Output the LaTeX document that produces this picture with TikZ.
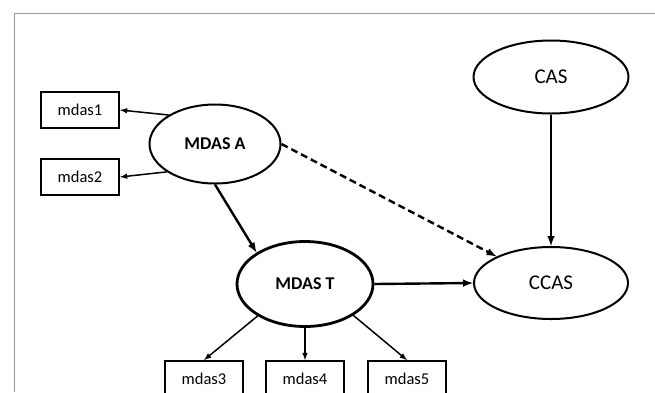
\documentclass[tikz,border=0pt]{standalone}
\usepackage{fontspec}
\setmainfont{Carlito}
\usepackage{tikz}
\usetikzlibrary{shapes.geometric, arrows, positioning}

\begin{document}
\begin{tikzpicture}[x=1pt, y=-1pt,
    agent/.style={draw, ellipse, line width=2pt, inner sep=0pt},
    tbox/.style={draw, rectangle, line width=1.8pt, minimum width=78pt, minimum height=36pt, inner sep=0pt, font=\fontsize{16.5}{19}\selectfont},
    linkthin/.style={-latex, line width=1.5pt},
    linkbold/.style={-latex, line width=2.4pt}]
\useasboundingbox (0,0) rectangle (655,392);
\draw[gray!80, line width=1pt] (655,13) -- (14,13) -- (14,392);

% Agents
\node[agent, minimum width=131pt, minimum height=79pt, font=\fontsize{18}{21}\selectfont\bfseries] (ma) at (215,144) {MDAS A};
\node[agent, line width=2.8pt, minimum width=136pt, minimum height=85pt, font=\fontsize{18}{21}\selectfont\bfseries] (mt) at (305,284) {MDAS T};
\node[agent, minimum width=155pt, minimum height=73pt, font=\fontsize{21}{25}\selectfont] (cas) at (551,77) {CAS};
\node[agent, minimum width=154pt, minimum height=72pt, font=\fontsize{21}{25}\selectfont] (ccas) at (551,283) {CCAS};

% Data sources
\node[tbox] (m1) at (80,110) {mdas1};
\node[tbox] (m2) at (80,177) {mdas2};
\node[tbox] (m3) at (204,379) {mdas3};
\node[tbox] (m4) at (305,379) {mdas4};
\node[tbox] (m5) at (407,379) {mdas5};

% Links
\draw[linkthin] (ma.148) -- (m1.east);
\draw[linkthin] (ma.210) -- (m2.east);
\draw[linkbold] (ma.south) -- (mt.147);
\draw[linkbold, dash pattern=on 7pt off 4pt] (ma.east) -- (ccas.154);
\draw[linkbold] (cas.south) -- (ccas.north);
\draw[linkbold] (mt.east) -- (ccas.west);
\draw[linkthin] (mt.214) -- (m3.north);
\draw[linkthin] (mt.south) -- (m4.north);
\draw[linkthin] (mt.327) -- (m5.north);
\end{tikzpicture}
\end{document}
